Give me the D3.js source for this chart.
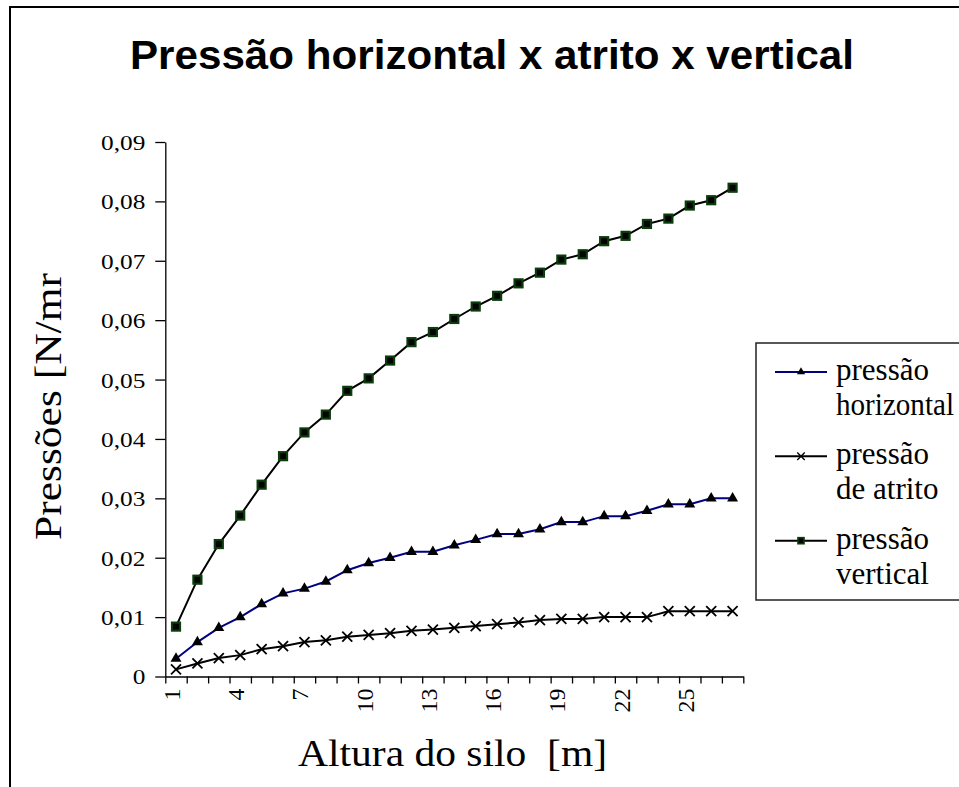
<!DOCTYPE html>
<html>
<head>
<meta charset="utf-8">
<script src="https://cdn.jsdelivr.net/npm/d3@7"></script>
<style>
  html, body { margin: 0; padding: 0; background: #fff; }
  svg { display: block; }
</style>
</head>
<body>
<svg id="chart" width="959" height="787"></svg>
<script>
// ---- Dados
const alturas = [1, 2, 3, 4, 5, 6, 7, 8, 9, 10, 11, 12, 13, 14, 15, 16, 17, 18, 19, 20, 21, 22, 23, 24, 25, 26, 27];
const rotulosX = [1, 4, 7, 10, 13, 16, 19, 22, 25];
const ticksY = [0, 0.01, 0.02, 0.03, 0.04, 0.05, 0.06, 0.07, 0.08, 0.09];

const pressaoHorizontal = [0.0030, 0.0058, 0.0082, 0.0100, 0.0122, 0.0140, 0.0148, 0.0160, 0.0179, 0.0191,
    0.0200, 0.0210, 0.0210, 0.0221, 0.0230, 0.0240, 0.0240, 0.0248, 0.0260, 0.0260,
    0.0270, 0.0270, 0.0279, 0.0290, 0.0290, 0.0300, 0.0300];
const pressaoAtrito = [0.0012, 0.0022, 0.0031, 0.0036, 0.0046, 0.0051, 0.0058, 0.0061, 0.0067, 0.0070,
    0.0073, 0.0077, 0.0079, 0.0082, 0.0085, 0.0088, 0.0091, 0.0095, 0.0097, 0.0097,
    0.0100, 0.0100, 0.0100, 0.0110, 0.0110, 0.0110, 0.0110];
const pressaoVertical = [0.0084, 0.0163, 0.0223, 0.0271, 0.0323, 0.0371, 0.0411, 0.0441, 0.0481, 0.0502,
    0.0532, 0.0563, 0.0580, 0.0602, 0.0623, 0.0641, 0.0662, 0.0680, 0.0702, 0.0711,
    0.0733, 0.0742, 0.0762, 0.0771, 0.0793, 0.0802, 0.0823];

const series = [
    { nome: ['pressão', 'horizontal'], valores: pressaoHorizontal, cor: '#000080', marcador: 'triangle' },
    { nome: ['pressão', 'de atrito'], valores: pressaoAtrito, cor: '#000', marcador: 'x' },
    { nome: ['pressão', 'vertical'], valores: pressaoVertical, cor: '#000', marcador: 'square' }
];

const serif = '"Liberation Serif", "Times New Roman", serif';
const sans = '"Liberation Sans", Arial, sans-serif';

const svg = d3.select('#chart');
const area = { left: 165.3, right: 743.3, top: 142, bottom: 676.5 };

// ---- Borda externa
svg.append('rect')
    .attr('x', 10).attr('y', 7)
    .attr('width', 1000).attr('height', 1000)
    .attr('fill', 'none')
    .attr('stroke', '#000')
    .attr('stroke-width', 2);

// ---- Escalas
const mapX = d3.scaleBand().domain(alturas).range([area.left, area.right]).padding(0);
const mapY = d3.scaleLinear().domain([0, 0.09]).range([area.bottom, area.top]);
const cx = d => mapX(d) + mapX.bandwidth() / 2;

// esticar texto na horizontal (o original tem fontes distorcidas)
function stretch(sel, k) {
    sel.each(function () {
        const len = this.getComputedTextLength();
        d3.select(this).attr('textLength', len * k).attr('lengthAdjust', 'spacingAndGlyphs');
    });
}

// ---- Título
svg.append('text')
    .attr('x', 492)
    .attr('y', 69)
    .attr('text-anchor', 'middle')
    .style('font-family', sans)
    .attr('font-weight', 700)
    .attr('font-size', '40px')
    .attr('textLength', 724)
    .attr('lengthAdjust', 'spacingAndGlyphs')
    .text('Pressão horizontal x atrito x vertical');

// ---- Eixo Y
const yAxis = d3.axisLeft(mapY)
    .tickValues(ticksY)
    .tickSize(10)
    .tickSizeOuter(0)
    .tickPadding(10)
    .tickFormat(d => d === 0 ? '0' : d3.format('.2f')(d).replace('.', ','));

const gY = svg.append('g')
    .attr('transform', `translate(${area.left},0)`)
    .call(yAxis)
    .attr('font-family', null);
gY.selectAll('path, line').attr('stroke', '#000').attr('stroke-width', 1.3);
gY.selectAll('text')
    .style('font-family', serif)
    .style('font-size', '22px')
    .attr('fill', '#000')
    .attr('dy', '0.34em')
    .call(stretch, 1.15);

// ---- Eixo X: marcas nas fronteiras das categorias
const boundary = d3.scaleLinear().domain([0, alturas.length]).range([area.left, area.right]);
const gXTicks = svg.append('g')
    .attr('transform', `translate(0,${area.bottom})`)
    .call(d3.axisBottom(boundary).tickValues(d3.range(0, alturas.length + 1)).tickSize(7).tickSizeOuter(0).tickFormat(''));
gXTicks.selectAll('path, line').attr('stroke', '#000').attr('stroke-width', 1.3);

// rótulos
const gX = svg.append('g')
    .attr('transform', `translate(0,${area.bottom})`)
    .call(d3.axisBottom(mapX).tickValues(rotulosX).tickSize(0))
    .attr('font-family', null);
gX.select('.domain').remove();
gX.selectAll('text')
    .style('font-family', serif)
    .style('font-size', '24px')
    .attr('fill', '#000')
    .attr('transform', 'rotate(-90)')
    .attr('text-anchor', 'end')
    .attr('x', -12)
    .attr('y', 4)
    .attr('dy', null);

// ---- Rótulos dos eixos
svg.append('text')
    .attr('x', 452.5)
    .attr('y', 766)
    .attr('text-anchor', 'middle')
    .style('font-family', serif)
    .attr('font-size', '37px')
    .attr('textLength', 309)
    .attr('lengthAdjust', 'spacingAndGlyphs')
    .style('white-space', 'pre')
    .text('Altura do silo  [m]');

svg.append('text')
    .attr('transform', 'translate(61,406.5) rotate(-90)')
    .attr('text-anchor', 'middle')
    .style('font-family', serif)
    .attr('font-size', '38px')
    .attr('textLength', 267)
    .attr('lengthAdjust', 'spacingAndGlyphs')
    .text('Pressões [N/mr');

// ---- Marcadores
function drawMarker(g, tipo, cor) {
    if (tipo === 'triangle') {
        g.append('path')
            .attr('d', d3.symbol(d3.symbolTriangle, 52)())
            .attr('fill', '#000');
    } else if (tipo === 'x') {
        g.append('path')
            .attr('d', 'M-5,-5L5,5M-5,5L5,-5')
            .attr('fill', 'none')
            .attr('stroke', '#000')
            .attr('stroke-width', 1.8);
    } else {
        g.append('rect')
            .attr('x', -4).attr('y', -4)
            .attr('width', 8).attr('height', 8)
            .attr('fill', '#000')
            .attr('stroke', '#0b3d0b')
            .attr('stroke-width', 2.2);
    }
}

// ---- Linhas
const line = d3.line()
    .x((d, i) => cx(alturas[i]))
    .y(d => mapY(d));

series.forEach(s => {
    svg.append('path')
        .datum(s.valores)
        .attr('d', line)
        .attr('fill', 'none')
        .attr('stroke', s.cor)
        .attr('stroke-width', 2);

    svg.append('g')
        .selectAll('g')
        .data(s.valores)
        .join('g')
        .attr('transform', (d, i) => `translate(${cx(alturas[i])},${mapY(d)})`)
        .each(function () { drawMarker(d3.select(this), s.marcador, s.cor); });
});

// ---- Legenda
const legend = svg.append('g').attr('transform', 'translate(756,343)');
legend.append('rect')
    .attr('width', 300).attr('height', 257)
    .attr('fill', '#fff')
    .attr('stroke', '#222')
    .attr('stroke-width', 1.5);

const legendY = d3.scalePoint().domain(series.map((s, i) => i)).range([29, 197.7]);

const items = legend.selectAll('.legend-item')
    .data(series)
    .join('g')
    .attr('class', 'legend-item')
    .attr('transform', (d, i) => `translate(0,${legendY(i)})`);

items.append('line')
    .attr('x1', 19).attr('x2', 71)
    .attr('stroke', d => d.cor)
    .attr('stroke-width', 2);

items.each(function (d) {
    const g = d3.select(this).append('g');
    drawMarker(g, d.marcador, d.cor);
    g.attr('transform', 'translate(45,0) scale(0.75)');
});

// limita a largura para caber na imagem
function fitWidth(sel, maxW) {
    sel.each(function () {
        if (this.getComputedTextLength() > maxW) {
            d3.select(this).attr('textLength', maxW).attr('lengthAdjust', 'spacingAndGlyphs');
        }
    });
}

items.append('text')
    .attr('x', 80)
    .attr('y', 8)
    .style('font-family', serif)
    .attr('font-size', '31px')
    .text(d => d.nome[0])
    .call(fitWidth, 118);

items.append('text')
    .attr('x', 80)
    .attr('y', 43)
    .style('font-family', serif)
    .attr('font-size', '31px')
    .text(d => d.nome[1])
    .call(fitWidth, 118);
</script>
</body>
</html>
